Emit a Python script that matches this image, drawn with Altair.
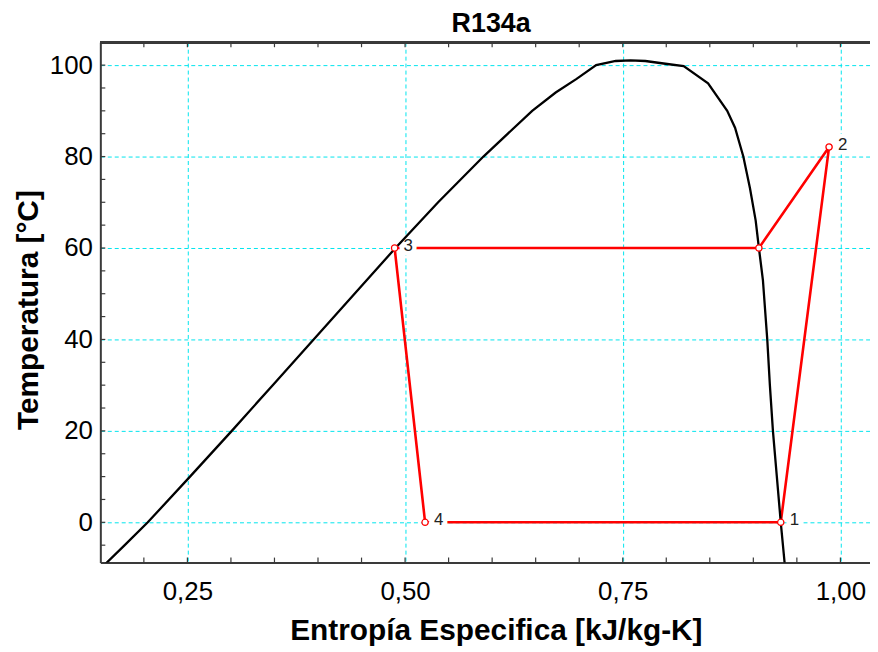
import altair as alt
import pandas as pd

# ---------------- data ----------------
liq_T = [-10, -5, 0, 10, 20, 30, 40, 50, 60, 70, 80, 90, 94, 97, 100, 100.9]
liq_s = [0.151, 0.178, 0.2045, 0.253, 0.301, 0.348, 0.395, 0.442, 0.489, 0.538,
         0.590, 0.646, 0.673, 0.697, 0.7195, 0.742]
crit_T = [101.06]
crit_s = [0.759]
vap_T = [100.9, 100.3, 99.8, 96, 90, 86.3, 80, 73, 66, 60, 53, 40, 30, 20, 10, 0, -10]
vap_s = [0.776, 0.799, 0.820, 0.848, 0.870, 0.879, 0.8885, 0.8962, 0.9027, 0.9064,
         0.911, 0.916, 0.919, 0.9225, 0.927, 0.9315, 0.9365]

cyc_s = [0.9315, 0.987, 0.9064, 0.488, 0.523, 0.9315]
cyc_T = [0, 82.1, 60, 60, 0, 0]

pt_s = [0.9315, 0.987, 0.9064, 0.488, 0.523]
pt_T = [0, 82.1, 60, 60, 0]
pt_lab = ["1", "2", "", "3", "4"]

x_major = [0.25, 0.50, 0.75, 1.00]
x_minor = [0.20, 0.25, 0.30, 0.35, 0.40, 0.45, 0.50, 0.55, 0.60, 0.65, 0.70,
           0.75, 0.80, 0.85, 0.90, 0.95, 1.00]
y_major = [0, 20, 40, 60, 80, 100]
y_minor = [-5, 0, 5, 10, 15, 20, 25, 30, 35, 40, 45, 50, 55, 60, 65, 70, 75,
           80, 85, 90, 95, 100]

title_txt = "R134a"
x_title = "Entropía Especifica [kJ/kg-K]"
y_title = "Temperatura [°C]"

# ---------------- tables ----------------
dome_T = liq_T + crit_T + vap_T
dome_s = liq_s + crit_s + vap_s
dome = pd.DataFrame({"s": dome_s, "T": dome_T, "i": list(range(len(dome_T)))})
cyc = pd.DataFrame({"s": cyc_s, "T": cyc_T, "i": list(range(len(cyc_T)))})
pts = pd.DataFrame({"s": pt_s, "T": pt_T, "lab": pt_lab})
xt = pd.DataFrame({"s": x_minor})
yt = pd.DataFrame({"T": y_minor})

W, H = 774.4, 523.5
FONT = "Liberation Sans"
GRID = "#00E5EE"
AX = "#3a3a3a"

xs = alt.Scale(domain=[0.15, 1.034], nice=False, zero=False)
ys = alt.Scale(domain=[-8.8, 105], nice=False, zero=False)

x_axis = alt.Axis(
    values=x_major, grid=True, ticks=False, labelFlush=False,
    labelExpr="replace(format(datum.value, '.2f'), '.', ',')",
    gridColor=GRID, gridDash=[4, 3], gridWidth=1,
    domainColor=AX, domainWidth=2,
    labelFont=FONT, labelFontSize=26, labelColor="black", labelPadding=16,
    title=x_title, titleFont=FONT, titleFontSize=30, titleFontWeight="bold",
    titleColor="black", titleX=398, titleY=77, titleBaseline="alphabetic",
    titleAlign="center",
)
y_axis = alt.Axis(
    values=y_major, grid=True, ticks=False, labelFlush=False,
    gridColor=GRID, gridDash=[4, 3], gridWidth=1,
    domainColor=AX, domainWidth=2,
    labelFont=FONT, labelFontSize=26, labelColor="black", labelPadding=8,
    labelBaseline="middle",
    title=y_title, titleFont=FONT, titleFontSize=30, titleFontWeight="bold",
    titleColor="black", titleX=-63, titleY=269, titleBaseline="alphabetic",
    titleAlign="center", titleAngle=270,
)

X = alt.X("s:Q", scale=xs, axis=x_axis)
Y = alt.Y("T:Q", scale=ys, axis=y_axis)

red_line = alt.Chart(cyc).mark_line(color="#FF0000", strokeWidth=2.6, clip=True).encode(
    x=X, y=Y, order="i:Q",
)

halo = alt.Chart(pts).mark_text(
    align="left", baseline="middle", dx=9, dy=-2, font=FONT, fontSize=17,
    stroke="white", strokeWidth=9, fill="white",
).encode(x=X, y=Y, text="lab:N")

dome_line = alt.Chart(dome).mark_line(color="black", strokeWidth=2.3, clip=True).encode(
    x=X, y=Y, order="i:Q",
)

markers = alt.Chart(pts).mark_point(
    shape="circle", size=40, filled=False, fill="white", fillOpacity=1,
    stroke="#FF0000", strokeWidth=1.3, opacity=1,
).encode(x=X, y=Y)

labels = alt.Chart(pts).mark_text(
    align="left", baseline="middle", dx=9, dy=-2, font=FONT, fontSize=17,
    color="#222222",
).encode(x=X, y=Y, text="lab:N")

tick_bottom = alt.Chart(xt).mark_rule(color=AX, strokeWidth=1.2).encode(
    x=X, y=alt.value(H), y2=alt.value(H - 5),
)
tick_top = alt.Chart(xt).mark_rule(color=AX, strokeWidth=1.2).encode(
    x=X, y=alt.value(0), y2=alt.value(5),
)
tick_left = alt.Chart(yt).mark_rule(color=AX, strokeWidth=1.2).encode(
    y=Y, x=alt.value(0), x2=alt.value(5),
)
top_border = alt.Chart(xt).mark_rule(color=AX, strokeWidth=2).encode(
    x=alt.value(0), x2=alt.value(W), y=alt.value(0),
)

chart = alt.layer(
    red_line, halo, dome_line, markers, labels,
    tick_bottom, tick_top, tick_left, top_border,
).properties(
    width=W, height=H,
    title=alt.TitleParams(title_txt, font=FONT, fontSize=27, fontWeight="bold",
                          color="black", offset=3, dx=6, anchor="middle"),
    autosize="none",
    padding={"left": 92.9, "top": 32.5, "right": 0, "bottom": 84},
).configure_view(strokeWidth=0).configure(background="white")

chart.save("out.html", embed_options={"renderer": "svg", "actions": False})
